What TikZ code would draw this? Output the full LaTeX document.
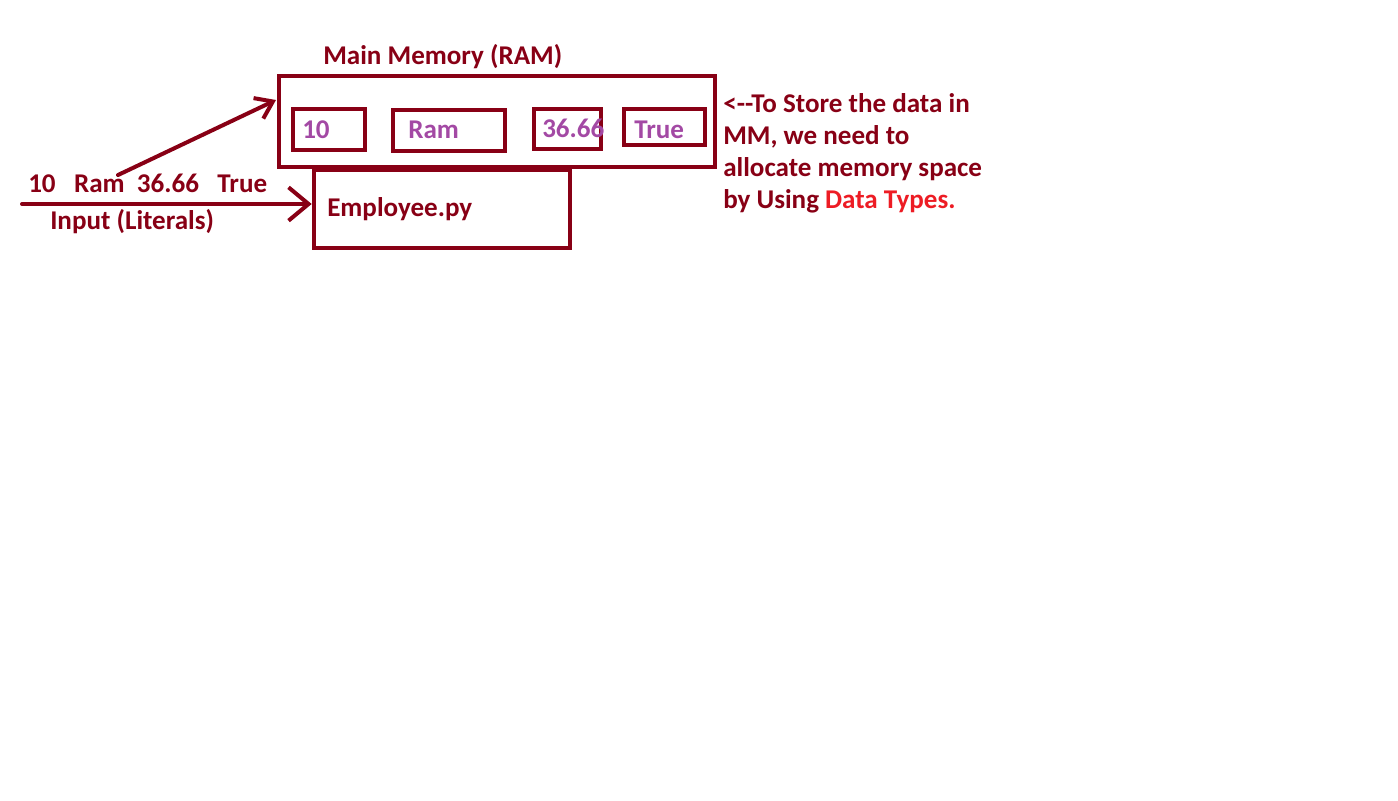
\documentclass[tikz,border=0pt]{standalone}
\usepackage{fontspec}
\setmainfont{Carlito}
\usetikzlibrary{arrows.meta}

\definecolor{inkred}{RGB}{136,0,21}
\definecolor{valpurple}{RGB}{163,73,164}
\definecolor{typered}{RGB}{237,28,36}

\begin{document}
\begin{tikzpicture}[x=0.75pt,y=-0.75pt,
	box/.style={draw=inkred,line width=3.5pt,rectangle,inner sep=0pt},
	label/.style={inner sep=0pt,anchor=base west,text=inkred,font=\fontsize{20.3}{24}\selectfont\bfseries},
	value/.style={label,text=valpurple},
	arr/.style={draw=inkred,line width=3pt,line cap=round}]
	
	\useasboundingbox (0,0) rectangle (1398,800);
	
	% memory and program
	\node (mm) [box, minimum width=327pt, minimum height=68.25pt] at (497,121.5) {};
	\node (emp) [box, minimum width=192pt, minimum height=58.5pt] at (442,209) {};
	\node (ttl) [label] at (323,64) {Main Memory (RAM)};
	\node (prg) [label] at (327,216) {Employee.py};
	
	% memory cells
	\node (c10) [box, minimum width=54pt, minimum height=30.75pt] at (329,129.5) {};
	\node (cram) [box, minimum width=84pt, minimum height=30.75pt] at (449,130.5) {};
	\node (cfloat) [box, minimum width=50.25pt, minimum height=30pt] at (567.5,129) {};
	\node (cbool) [box, minimum width=60.75pt, minimum height=27pt] at (664.5,127) {};
	\node (v10) [value] at (302,138) {10};
	\node (vram) [value] at (408,138) {Ram};
	\node (vfloat) [value] at (542,137) {36.66};
	\node (vbool) [value] at (634,138) {True};
	
	% input side
	\node (lit) [label] at (28,192) {10\ \ \ Ram\ \ 36.66\ \ \ True};
	\node (inp) [label] at (50,229) {Input (Literals)};
	\coordinate (src) at (22,204);
	\coordinate (tail) at (118,175);
	\coordinate (head) at (276,100);
	
	\draw [arr, -{Straight Barb[length=15pt,width=25pt]}] (src) -- (src -| emp.west);
	\draw [arr, -{Straight Barb[length=12pt,width=17pt]}] (tail) -- (head);
	
	% note
	\node (note) [label, anchor=north west, align=left] at (723,93)
	{<-{}-To Store the data in\\MM, we need to\\allocate memory space\\by Using \textcolor{typered}{Data Types.}};
\end{tikzpicture}
\end{document}
